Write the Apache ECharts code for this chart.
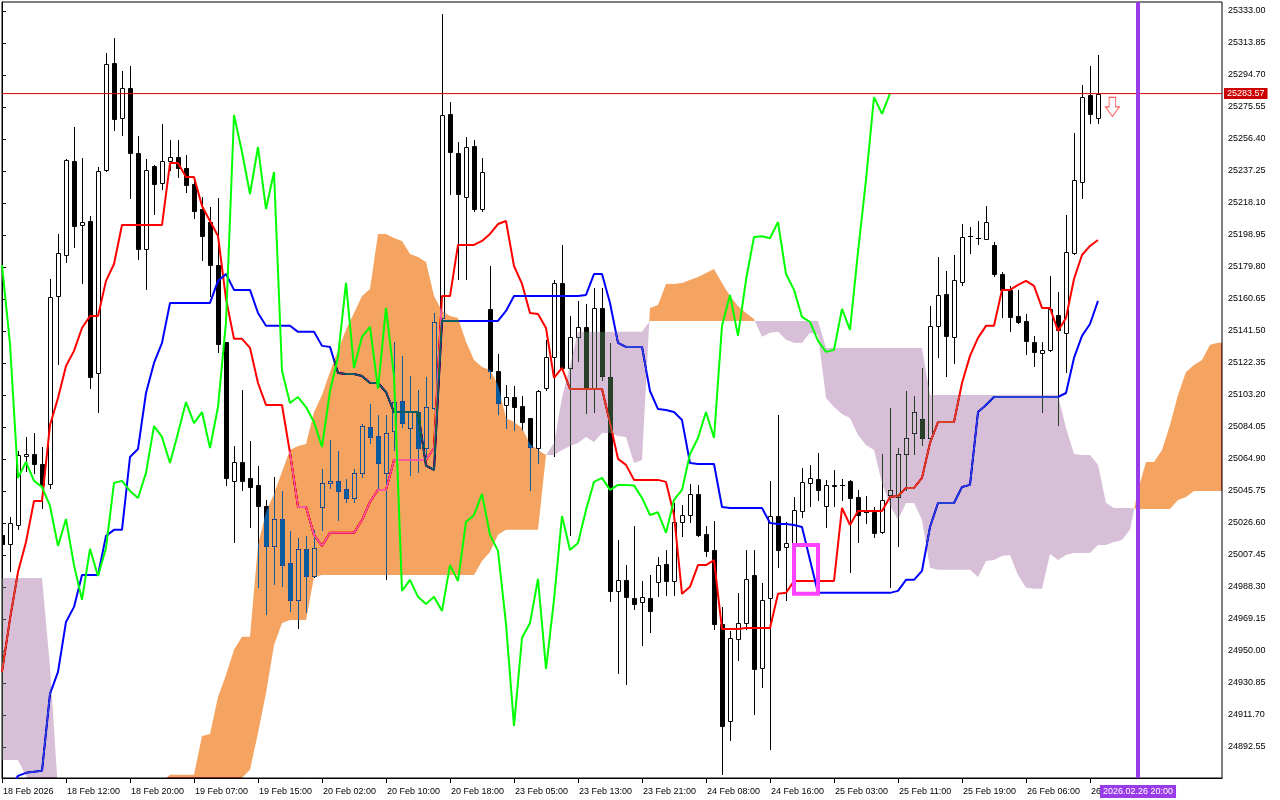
<!DOCTYPE html>
<html><head><meta charset="utf-8">
<script src="https://cdn.jsdelivr.net/npm/echarts@6/dist/echarts.min.js"></script>
<style>html,body{margin:0;padding:0;background:#fff}#c{width:1280px;height:800px}</style>
</head><body><div id="c"></div>
<script>
// ---- price candles (bar index 0..137) ----
const opens=[25019.5,25014.1,25025.4,25066.7,25067.9,25061.9,25050.0,25162.4,25187.0,25243.2,
25204.9,25207.3,25116.4,25237.9,25301.9,25268.9,25286.9,25248.0,25190.6,25240.3,
25230.1,25243.2,25245.6,25239.1,25229.5,25214.5,25206.7,25181.0,25135.0,25051.8,
25063.1,25053.6,25049.4,25036.8,25012.9,25029.0,25002.7,24980.6,25011.1,24994.9,
25036.2,25050.6,25051.8,25047.0,25041.6,25056.6,25084.0,25078.7,25056.6,25081.7,
25099.6,25083.4,25093.0,25071.5,25095.4,25149.3,25271.4,25248.0,25221.7,25252.2,
25214.5,25154.7,25117.6,25097.2,25102.0,25096.6,25089.4,25071.5,25107.4,25126.0,
25170.3,25119.4,25138.0,25144.0,25106.8,25155.3,25114.0,24986.0,24992.6,24981.8,
24979.4,24981.8,24991.3,25002.0,24991.9,25027.2,25031.4,25044.0,25020.1,25010.5,
24966.2,24908.2,24957.3,24966.8,24995.5,24939.9,24981.8,25030.8,25012.3,25014.1,
25033.8,25050.6,25053.0,25036.8,25048.8,25049.4,25051.8,25042.2,25033.2,25033.2,
25021.3,25043.4,25042.2,25067.9,25080.5,25088.8,25077.5,25144.6,25163.7,25138.0,
25170.9,25198.4,25197.2,25196.6,25193.0,25175.6,25166.1,25150.5,25147.5,25135.0,
25128.4,25130.2,25151.1,25140.4,25188.2,25230.7,25282.7,25268.9];
const highs=[25022.5,25030.2,25069.7,25078.1,25080.5,25072.1,25172.6,25199.6,25244.4,25263.5,
25245.0,25210.3,25239.7,25307.9,25316.9,25297.1,25300.1,25258.2,25244.4,25240.9,
25265.4,25255.9,25255.9,25246.8,25233.7,25221.7,25215.7,25221.1,25135.0,25072.7,
25106.2,25075.7,25060.8,25040.4,25054.2,25045.8,25021.9,25017.7,25018.9,25022.5,
25059.0,25076.3,25069.7,25053.0,25059.0,25085.8,25097.8,25091.2,25091.2,25135.0,
25126.6,25114.6,25106.2,25114.0,25152.3,25331.2,25278.6,25254.6,25257.6,25255.9,
25245.0,25180.4,25127.8,25109.2,25108.6,25102.6,25089.4,25106.2,25136.2,25172.0,
25193.0,25150.5,25159.5,25157.7,25167.3,25167.3,25134.4,25016.5,25001.4,25024.8,
24991.9,24995.5,25006.3,25010.5,25038.6,25037.4,25050.0,25049.4,25024.8,25027.8,
24976.4,24962.0,24984.8,25010.5,25010.5,24990.7,25051.8,25091.2,25027.2,25042.2,
25059.6,25061.4,25068.5,25052.4,25058.4,25053.0,25052.4,25046.4,25042.8,25036.2,
25067.9,25095.4,25071.5,25105.6,25102.6,25119.4,25156.5,25185.8,25177.5,25187.0,
25205.5,25203.7,25207.3,25216.3,25194.8,25176.8,25168.5,25166.1,25151.7,25138.6,
25135.0,25174.4,25164.9,25210.9,25260.0,25288.7,25300.1,25306.7];
const lows=[25011.7,24997.9,25023.0,25057.8,25056.6,25035.6,25047.6,25121.8,25182.8,25191.8,
25170.3,25107.4,25093.0,25237.5,25261.8,25258.8,25221.1,25184.6,25166.7,25211.5,
25226.5,25237.9,25233.7,25224.7,25209.1,25184.0,25162.4,25129.0,25049.4,25015.3,
25046.4,25024.2,24988.4,24972.2,24990.2,24989.0,24974.0,24963.8,24973.4,24994.3,
25022.5,25047.6,25028.4,25039.2,25039.2,25054.2,25074.5,25047.6,24993.2,25070.3,
25084.0,25055.4,25057.2,25066.1,25094.8,25148.1,25223.5,25172.6,25172.6,25213.3,
25213.3,25113.4,25091.8,25083.4,25082.3,25082.3,25046.4,25062.5,25106.2,25066.7,
25118.2,25019.5,25123.6,25092.4,25093.0,25112.2,24980.0,24936.9,24930.3,24975.2,
24953.6,24961.4,24983.0,24983.6,24983.6,25018.9,25027.2,25018.9,25006.9,24963.2,
24876.4,24896.8,24944.7,24963.2,24912.3,24928.5,24891.4,25000.2,24980.6,25013.5,
25030.2,25036.8,25040.4,25024.2,25036.8,25040.4,24997.3,25015.3,25026.6,25018.3,
25020.7,24988.4,25012.9,25046.4,25067.9,25073.3,25074.5,25126.0,25114.6,25122.4,
25169.1,25188.2,25193.6,25196.6,25174.4,25149.9,25141.5,25146.3,25127.8,25120.6,
25093.0,25129.6,25085.2,25117.0,25187.6,25221.1,25266.0,25266.0];
const closes=[25014.1,25026.6,25067.3,25067.9,25061.9,25049.4,25161.8,25188.2,25243.8,25204.3,
25206.7,25114.0,25237.3,25301.3,25268.3,25286.9,25248.0,25190.6,25237.9,25229.5,
25243.2,25245.6,25239.1,25228.9,25213.3,25198.4,25181.0,25133.8,25053.6,25063.1,
25051.8,25048.2,25036.8,25012.9,25029.0,25001.4,24980.6,25011.1,24994.9,25011.7,
25050.6,25051.8,25045.8,25041.6,25056.6,25084.6,25078.1,25062.5,25080.5,25099.0,
25086.4,25093.0,25071.5,25096.0,25146.9,25270.8,25248.6,25223.5,25251.6,25214.5,
25236.7,25117.6,25098.4,25102.0,25096.0,25087.0,25072.1,25105.6,25126.0,25170.3,
25119.4,25138.0,25144.0,25106.8,25155.3,25114.6,24986.0,24992.6,24982.4,24978.2,
24982.4,24974.0,25001.4,24991.9,25027.2,25031.4,25044.0,25019.5,25009.9,24966.2,
24905.2,24957.9,24966.8,24993.2,24939.3,24980.6,25030.8,25010.5,25014.7,25034.4,
25051.2,25053.6,25046.4,25049.4,25049.4,25049.1,25041.6,25031.4,25033.0,25020.7,
25040.4,25046.4,25067.9,25077.5,25093.0,25077.5,25144.6,25163.1,25138.6,25172.0,
25197.8,25198.2,25197.0,25206.7,25175.6,25166.1,25149.9,25146.9,25135.6,25129.0,
25130.2,25154.7,25142.2,25188.8,25231.9,25281.5,25271.4,25283.57];
// ---- Ichimoku lines ----
const tenkan=[24937.5,24969.2,24997.3,25015.3,25039.8,25039.8,25085.2,25101.4,25120.6,25129.6,
25143.3,25150.5,25150.5,25171.5,25181.6,25204.9,25204.9,25204.9,25204.9,25204.9,
25204.9,25242.0,25242.0,25233.7,25233.7,25216.3,25207.3,25198.4,25160.7,25136.8,
25136.8,25131.4,25110.4,25097.2,25097.2,25097.2,25068.5,25036.2,25036.2,25019.5,
25012.9,25020.7,25020.7,25020.7,25020.7,25028.4,25039.2,25046.4,25046.4,25064.3,
25064.3,25064.3,25064.3,25064.3,25071.5,25162.4,25162.4,25193.0,25193.0,25193.0,
25195.4,25199.6,25205.5,25207.3,25180.4,25169.7,25152.3,25151.7,25143.3,25113.4,
25119.4,25106.8,25106.8,25106.8,25106.8,25106.8,25086.4,25065.0,25061.4,25052.4,
25052.4,25052.4,25052.4,25051.2,25031.4,24984.2,24988.4,25001.4,25001.4,25004.4,
24963.2,24963.2,24963.2,24963.8,24963.8,24963.8,24963.8,24984.2,24984.8,24991.9,
24991.9,24991.9,24991.9,24991.9,24991.9,25035.6,25025.4,25033.8,25033.8,25033.8,
25033.8,25042.2,25042.8,25047.6,25047.6,25053.6,25074.5,25087.0,25087.0,25087.0,
25110.4,25126.6,25137.4,25144.6,25144.6,25166.1,25166.1,25169.1,25171.5,25168.5,
25155.3,25155.3,25141.5,25149.3,25172.6,25187.0,25192.4,25196.0];
const kijun=[24860.9,24866.9,24875.3,24877.1,24877.7,24878.3,24924.3,24937.5,24967.4,24976.4,
24995.5,24995.5,24995.5,25018.9,25022.5,25022.5,25066.1,25070.9,25104.4,25122.4,
25134.4,25158.3,25158.3,25158.3,25158.3,25158.3,25158.3,25171.5,25175.6,25166.1,
25166.1,25166.1,25152.3,25144.6,25144.6,25144.6,25144.6,25141.0,25141.0,25141.0,
25132.6,25132.0,25116.4,25115.8,25115.8,25114.6,25110.4,25110.4,25105.0,25093.0,
25093.0,25093.0,25093.0,25061.0,25058.4,25147.5,25147.5,25147.5,25147.5,25147.5,
25147.5,25147.5,25147.5,25153.5,25162.4,25162.4,25162.4,25162.4,25162.4,25162.4,
25162.4,25162.4,25162.4,25163.1,25175.6,25175.6,25158.3,25134.4,25132.0,25132.0,
25132.0,25105.6,25094.8,25094.2,25093.0,25088.2,25062.5,25061.9,25061.9,25061.9,
25036.2,25035.6,25035.6,25035.6,25035.6,25035.6,25026.6,25026.0,25026.0,25025.4,
25024.2,25004.5,24984.8,24984.8,24984.8,24984.8,24984.8,24984.8,24984.8,24984.8,
24984.8,24984.8,24986.0,24992.6,24992.6,24998.0,25024.2,25038.6,25038.6,25038.6,
25048.2,25049.4,25093.0,25097.2,25102.0,25102.0,25102.0,25102.0,25102.0,25102.0,
25102.0,25102.0,25102.0,25104.4,25125.4,25138.6,25145.7,25159.5];
// chikou span, plotted at bars 0..111
const chikou=[25181.0,25133.8,25053.6,25063.1,25051.8,25048.2,25036.8,25012.9,25029.0,25001.4,
24980.6,25011.1,24994.9,25011.7,25050.6,25051.8,25045.8,25041.6,25056.6,25084.6,
25078.1,25062.5,25080.5,25099.0,25086.4,25093.0,25071.5,25096.0,25146.9,25270.8,
25248.6,25223.5,25251.6,25214.5,25236.7,25117.6,25098.4,25102.0,25096.0,25087.0,
25072.1,25105.6,25126.0,25170.3,25119.4,25138.0,25144.0,25106.8,25155.3,25114.6,
24986.0,24992.6,24982.4,24978.2,24982.4,24974.0,25001.4,24991.9,25027.2,25031.4,
25044.0,25019.5,25009.9,24966.2,24905.2,24957.9,24966.8,24993.2,24939.3,24980.6,
25030.8,25010.5,25014.7,25034.4,25051.2,25053.6,25046.4,25049.4,25049.4,25049.1,
25041.6,25031.4,25033.0,25020.7,25040.4,25046.4,25067.9,25077.5,25093.0,25077.5,
25144.6,25163.1,25138.6,25172.0,25197.8,25198.2,25197.0,25206.7,25175.6,25166.1,
25149.9,25146.9,25135.6,25129.0,25130.2,25154.7,25142.2,25188.8,25231.9,25281.5,
25271.4,25283.57];
// senkou spans, plotted at bars 0..153
const spanA=[24884.8,24884.8,24884.8,24875.3,24863.9,24854.9,24845.9,24836.9,24831.0,24831.0,
24831.0,24832.2,24833.4,24834.0,24834.6,24839.9,24845.9,24852.0,24860.9,24866.9,
24871.7,24875.9,24875.9,24875.9,24875.9,24899.2,24900.4,24922.5,24935.7,24950.7,
24958.5,24958.5,25013.5,25033.2,25044.0,25057.2,25070.3,25072.7,25073.9,25093.0,
25103.2,25117.0,25130.2,25142.2,25152.3,25162.4,25166.7,25199.6,25199.6,25197.2,
25195.4,25187.6,25185.8,25182.8,25162.4,25153.5,25150.5,25149.3,25135.0,25124.2,
25120.0,25118.2,25109.2,25089.4,25087.0,25083.4,25073.9,25070.3,25067.3,25067.3,
25070.3,25072.7,25074.5,25078.1,25075.1,25080.5,25080.5,25078.7,25078.1,25062.5,
25064.3,25155.3,25157.1,25169.7,25169.7,25170.3,25172.0,25173.8,25176.2,25178.6,
25170.3,25162.4,25156.5,25152.3,25148.7,25138.0,25140.4,25141.0,25136.2,25134.4,
25134.4,25140.4,25139.2,25101.4,25096.0,25091.8,25089.4,25079.3,25073.3,25070.3,
25050.6,25037.4,25028.4,25038.6,25038.6,25028.4,24999.8,24998.6,24998.6,24998.6,
24998.6,24998.6,24994.3,25003.9,25004.5,25006.9,25007.5,24995.5,24987.8,24987.2,
24987.2,25008.1,25004.5,25007.5,25008.7,25008.7,25008.7,25013.5,25013.5,25015.3,
25016.5,25022.5,25046.4,25063.1,25063.1,25070.3,25085.2,25103.2,25117.0,25121.2,
25124.2,25133.2,25134.4,25134.4];
const spanB=[24993.7,24993.7,24993.7,24993.7,24993.7,24993.7,24940.5,24866.9,24852.0,24845.9,
24842.9,24839.9,24838.2,24836.9,24835.8,24834.0,24834.0,24834.0,24836.9,24839.9,
24842.9,24848.9,24852.0,24854.9,24857.9,24860.9,24863.9,24866.9,24868.7,24871.7,
24874.1,24878.9,24901.0,24924.9,24953.6,24966.8,24968.6,24968.6,24968.6,24994.3,
24995.5,24995.5,24995.5,24995.5,24995.5,24995.5,24995.5,24995.5,24995.5,24995.5,
24995.5,24995.5,24995.5,24995.5,24995.5,24995.5,24995.5,24995.5,24995.5,24995.5,
25003.9,25009.3,25019.5,25022.5,25022.5,25022.5,25022.5,25022.5,25067.3,25074.5,
25101.4,25121.2,25141.0,25141.0,25141.0,25141.0,25141.0,25141.0,25141.0,25141.0,
25141.0,25147.5,25147.5,25147.5,25147.5,25147.5,25147.5,25147.5,25147.5,25147.5,
25147.5,25147.5,25147.5,25147.5,25147.5,25147.5,25147.5,25147.5,25147.5,25147.5,
25147.5,25147.5,25147.5,25131.4,25131.4,25131.4,25131.4,25131.4,25131.4,25131.4,
25131.4,25131.4,25131.4,25131.4,25131.4,25131.4,25103.2,25103.2,25103.2,25103.2,
25103.2,25103.2,25103.2,25103.2,25103.2,25103.2,25103.2,25103.2,25103.2,25103.2,
25103.2,25103.2,25103.2,25083.4,25067.9,25067.3,25067.3,25061.4,25038.6,25035.6,
25035.6,25035.6,25035.0,25035.0,25035.0,25035.0,25035.0,25040.4,25042.2,25045.8,
25045.8,25045.8,25045.8,25045.8];
// ---- axes ----
const xTickBars=[0,8,16,24,32,40,48,56,64,72,80,88,96,104,112,120,128,136];
const xTickLabels=["18 Feb 2026","18 Feb 12:00","18 Feb 20:00","19 Feb 07:00","19 Feb 15:00","20 Feb 02:00","20 Feb 10:00","20 Feb 18:00","23 Feb 05:00","23 Feb 13:00","23 Feb 21:00","24 Feb 08:00","24 Feb 16:00","25 Feb 03:00","25 Feb 11:00","25 Feb 19:00","26 Feb 06:00","26 Feb 14:00"];
const yTicks=[24892.55,24911.70,24930.85,24950.00,24969.15,24988.30,25007.45,25026.60,25045.75,25064.90,25084.05,25103.20,25122.35,25141.50,25160.65,25179.80,25198.95,25218.10,25237.25,25256.40,25275.55,25294.70,25313.85,25333.00];
const yMin=24874.00, yMax=25338.39;
const xMin=0, xMax=152.5;
const lastPrice=25283.57;
const vlineBar=142, vlineLabel="2026.02.26 20:00";
const rectBars=[99,102], rectPrices=[25013.5,24984.2];
const arrowPoint=[138.8,25275.6];

const candleData=opens.map((o,i)=>[i,o,closes[i],lows[i],highs[i]]);
const cloudData=[];
for(let i=0;i<spanA.length-1;i++) cloudData.push([i,spanA[i],spanB[i],spanA[i+1],spanB[i+1]]);
const pairs=a=>a.map((v,i)=>[i,v]);

// fill colours chosen so that 'difference' blending over white gives SandyBrown / Thistle
const ORANGE_X='#0b5b9f', THISTLE_X='#274027';

function renderCandle(params,api){
  const i=api.value(0),o=api.value(1),c=api.value(2),l=api.value(3),h=api.value(4);
  const po=api.coord([i,o]),pc=api.coord([i,c]),pl=api.coord([i,l]),ph=api.coord([i,h]);
  const cx=Math.round(po[0])+0.5;
  const yTop=Math.round(Math.min(po[1],pc[1])),yBot=Math.round(Math.max(po[1],pc[1]));
  const children=[{type:'line',shape:{x1:cx,y1:Math.round(ph[1]),x2:cx,y2:Math.round(pl[1])+1},style:{stroke:'#000',lineWidth:1}}];
  if(yBot-yTop<1){
    children.push({type:'line',shape:{x1:cx-2.5,y1:yTop+0.5,x2:cx+2.5,y2:yTop+0.5},style:{stroke:'#000',lineWidth:1}});
  } else {
    children.push({type:'rect',shape:{x:cx-2,y:yTop+0.5,width:4,height:yBot-yTop},style:{fill:c>=o?'#fff':'#000',stroke:'#000',lineWidth:1}});
  }
  return {type:'group',children};
}
function renderCloud(params,api){
  const i=api.value(0);
  const A0=api.value(1),B0=api.value(2),A1=api.value(3),B1=api.value(4);
  const a0=api.coord([i,A0]),b0=api.coord([i,B0]),a1=api.coord([i+1,A1]),b1=api.coord([i+1,B1]);
  const d0=A0-B0,d1=A1-B1;
  const col=d=>d>0?ORANGE_X:THISTLE_X;
  if(d0*d1>=0){
    return {type:'polygon',shape:{points:[a0,a1,b1,b0]},style:{fill:col(d0+d1)}};
  }
  const t=d0/(d0-d1);
  const pc=[a0[0]+t*(a1[0]-a0[0]),a0[1]+t*(a1[1]-a0[1])];
  return {type:'group',children:[
    {type:'polygon',shape:{points:[a0,pc,b0]},style:{fill:col(d0)}},
    {type:'polygon',shape:{points:[pc,a1,b1]},style:{fill:col(d1)}}
  ]};
}

const FONT='Liberation Sans';
const chart=echarts.init(document.getElementById('c'),null,{renderer:'canvas',devicePixelRatio:1});
chart.setOption({
  animation:false,
  backgroundColor:'#ffffff',
  grid:{left:2,top:2,right:58,bottom:22,show:true,borderColor:'#000',borderWidth:1,backgroundColor:'transparent'},
  xAxis:[{
    type:'value',min:xMin,max:xMax,position:'bottom',
    axisLine:{show:true,lineStyle:{color:'#000',width:1}},
    axisTick:{show:true,customValues:xTickBars,length:5,lineStyle:{color:'#000'}},
    axisLabel:{show:true,customValues:xTickBars,formatter:v=>xTickLabels[xTickBars.indexOf(Math.round(v))]||'',align:'left',margin:9,padding:[0,0,0,1],color:'#000',fontFamily:FONT,fontSize:9},
    splitLine:{show:false}
  },{
    type:'value',min:xMin,max:xMax,position:'bottom',z:20,
    axisLine:{show:false},axisTick:{show:false},splitLine:{show:false},
    axisLabel:{show:true,customValues:[vlineBar],formatter:()=>vlineLabel,align:'center',margin:7,color:'#fff',backgroundColor:'#9a3be8',padding:[2,3,2,3],fontFamily:FONT,fontSize:9}
  }],
  yAxis:[{
    type:'value',min:yMin,max:yMax,position:'right',
    axisLine:{show:true,lineStyle:{color:'#000',width:1}},
    axisTick:{show:true,customValues:yTicks,length:4,lineStyle:{color:'#000'}},
    axisLabel:{show:true,customValues:yTicks,formatter:v=>v.toFixed(2),margin:6,color:'#000',fontFamily:FONT,fontSize:9},
    splitLine:{show:false}
  },{
    type:'value',min:yMin,max:yMax,position:'right',z:20,
    axisLine:{show:false},axisTick:{show:false},splitLine:{show:false},
    axisLabel:{show:true,customValues:[lastPrice],formatter:()=>lastPrice.toFixed(2),margin:2,color:'#fff',backgroundColor:'#cc0000',padding:[1,3,1,3],fontFamily:FONT,fontSize:9}
  }],
  series:[
    {type:'custom',name:'candles',renderItem:renderCandle,data:candleData,clip:true,z:1,silent:true,encode:{x:0,y:[1,2,3,4]}},
    {type:'line',name:'tenkan',data:pairs(tenkan),showSymbol:false,symbol:'none',lineStyle:{color:'#ff0000',width:2},z:2,silent:true},
    {type:'line',name:'kijun',data:pairs(kijun),showSymbol:false,symbol:'none',lineStyle:{color:'#0000ff',width:2},z:2,silent:true},
    {type:'custom',name:'kumo',renderItem:renderCloud,data:cloudData,clip:true,z:3,silent:true,blendMode:'difference',encode:{x:0,y:[1,2,3,4]}},
    {type:'line',name:'chikou',data:pairs(chikou),showSymbol:false,symbol:'none',lineStyle:{color:'#00ff00',width:2},z:4,silent:true},
    {type:'line',name:'price',data:[[xMin,lastPrice],[xMax,lastPrice]],showSymbol:false,symbol:'none',lineStyle:{color:'#e00000',width:1},z:5,silent:true},
    {type:'line',name:'vline',data:[[vlineBar,yMin],[vlineBar,yMax]],showSymbol:false,symbol:'none',lineStyle:{color:'#9a3be8',width:4},z:5,silent:true},
    {type:'line',name:'rect',data:[[rectBars[0],rectPrices[0]],[rectBars[1],rectPrices[0]],[rectBars[1],rectPrices[1]],[rectBars[0],rectPrices[1]],[rectBars[0],rectPrices[0]]],showSymbol:false,symbol:'none',lineStyle:{color:'#ff40ff',width:4,join:'miter',cap:'square'},z:5,silent:true},
    {type:'scatter',name:'arrow',data:[arrowPoint],symbol:'path://M4,0 L11,0 L11,10 L15,10 L7.5,20 L0,10 L4,10 Z',symbolSize:[14,19],itemStyle:{color:'#ffffff',borderColor:'#ff2a2a',borderWidth:1},z:6,silent:true}
  ]
});
</script></body></html>
